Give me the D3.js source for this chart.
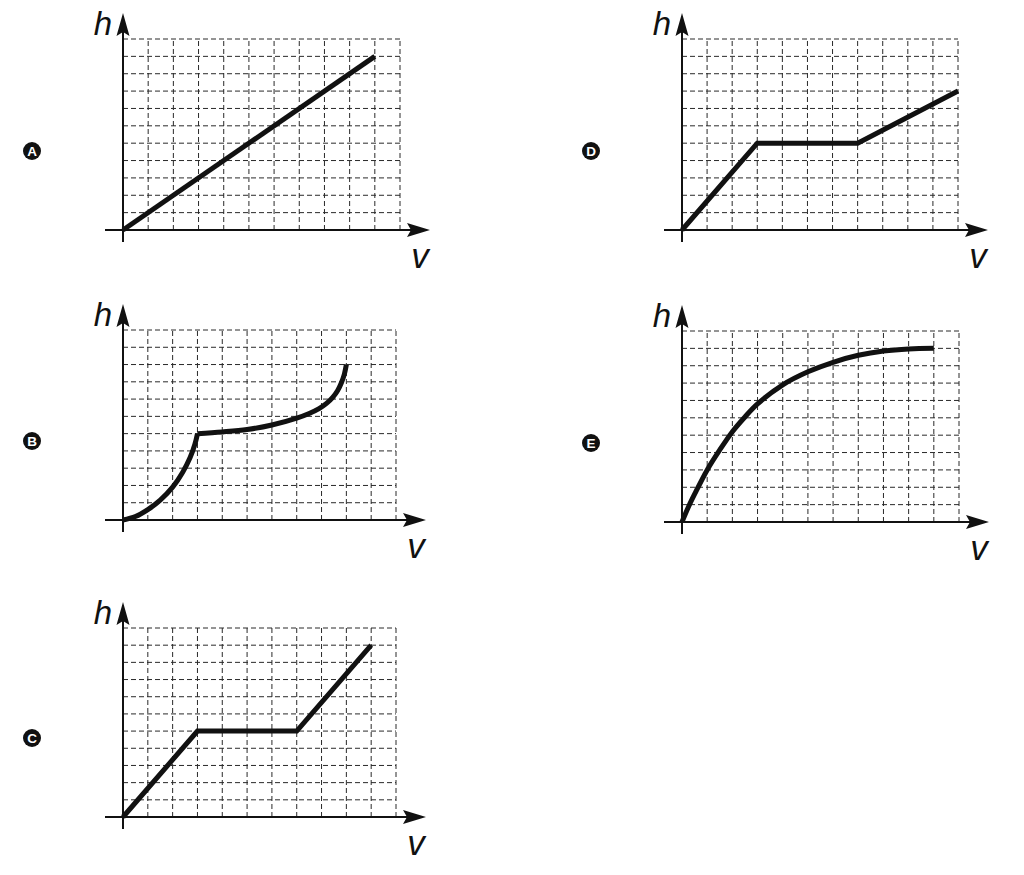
<!DOCTYPE html>
<html>
<head>
<meta charset="utf-8">
<script src="https://cdn.jsdelivr.net/npm/d3@7"></script>
<style>
  body { margin: 0; background: #fff; }
</style>
</head>
<body>
<script>
const width = 1024
const height = 875

// grid is 11 x 11 cells in every panel
const gridCells = d3.range(0, 12);

// [v, h] points, in grid units
const seriesA = [[0, 0], [10, 10]];
const seriesB1 = [[0, 0], [0.5, 0.2], [1, 0.6], [1.5, 1.15], [2, 1.9], [2.4, 2.75], [2.7, 3.6], [2.9, 4.4], [3, 5]];
const seriesB2 = [[3, 5], [4, 5.1], [5, 5.24], [6, 5.5], [7, 5.9], [7.5, 6.17], [7.9, 6.45], [8.2, 6.75],
                  [8.45, 7.1], [8.65, 7.5], [8.8, 7.95], [8.92, 8.45], [9, 9]];
const seriesC = [[0, 0], [3, 5], [7, 5], [10, 10]];
const seriesD = [[0, 0], [3, 5], [7, 5], [11, 8]];
const seriesE = [[0, 0], [0.25, 0.85], [0.5, 1.6], [1, 3], [1.5, 4.15], [2, 5.2], [2.5, 6.05], [3, 6.8],
                 [4, 7.9], [5, 8.65], [6, 9.2], [7, 9.6], [8, 9.85], [9, 9.97], [10, 10]];

const letters = ["A", "B", "C", "D", "E"];
const xLabel = "v";
const yLabel = "h";

// panel placement (origin = where axes cross)
const panels = [
  { label: "A", x0: 123, y0: 230, w: 277, h: 191, lines: [seriesA], curve: d3.curveLinear },
  { label: "B", x0: 123, y0: 520, w: 273, h: 190, lines: [seriesB1, seriesB2], curve: d3.curveCatmullRom.alpha(0.5) },
  { label: "C", x0: 123, y0: 817, w: 273, h: 189, lines: [seriesC], curve: d3.curveLinear },
  { label: "D", x0: 682, y0: 230, w: 276, h: 191, lines: [seriesD], curve: d3.curveLinear },
  { label: "E", x0: 682, y0: 522, w: 277, h: 191, lines: [seriesE], curve: d3.curveCatmullRom.alpha(0.5) }
];

const svg = d3.select("body").append("svg")
    .attr("width", width)
    .attr("height", height);

panels.forEach(p => {
    const x = d3.scaleLinear().domain([0, 11]).range([p.x0, p.x0 + p.w]);
    const y = d3.scaleLinear().domain([0, 11]).range([p.y0, p.y0 - p.h]);
    const g = svg.append("g");

    // dashed grid
    g.selectAll(".vgrid")
        .data(gridCells.slice(1))
        .enter().append("line")
        .attr("x1", d => x(d)).attr("x2", d => x(d))
        .attr("y1", y(0)).attr("y2", y(11))
        .attr("stroke", "#2a2a2a")
        .attr("stroke-width", 1)
        .attr("stroke-dasharray", "5,3");

    g.selectAll(".hgrid")
        .data(gridCells.slice(1))
        .enter().append("line")
        .attr("x1", x(0)).attr("x2", x(11))
        .attr("y1", d => y(d)).attr("y2", d => y(d))
        .attr("stroke", "#2a2a2a")
        .attr("stroke-width", 1)
        .attr("stroke-dasharray", "5,3");

    // axes
    const xEnd = x(11) + 30;
    const yEnd = y(11) - 26;
    g.append("line")
        .attr("x1", x(0) - 18).attr("x2", xEnd - 10)
        .attr("y1", y(0)).attr("y2", y(0))
        .attr("stroke", "#111").attr("stroke-width", 2);
    g.append("line")
        .attr("x1", x(0)).attr("x2", x(0))
        .attr("y1", y(0) + 12).attr("y2", yEnd + 10)
        .attr("stroke", "#111").attr("stroke-width", 2);

    // arrow heads
    g.append("path")
        .attr("d", `M${xEnd},${y(0)} L${xEnd - 23},${y(0) - 7} L${xEnd - 19},${y(0)} L${xEnd - 23},${y(0) + 7} Z`)
        .attr("fill", "#111");
    g.append("path")
        .attr("d", `M${x(0)},${yEnd} L${x(0) - 6.5},${yEnd + 23} L${x(0)},${yEnd + 19} L${x(0) + 6.5},${yEnd + 23} Z`)
        .attr("fill", "#111");

    // axis letters
    g.append("text")
        .attr("x", x(0) - 11)
        .attr("y", y(11) - 4)
        .attr("text-anchor", "end")
        .attr("font-family", "Liberation Sans, Arial, sans-serif")
        .attr("font-style", "italic")
        .attr("font-size", 33)
        .attr("fill", "#111")
        .text(yLabel);
    g.append("text")
        .attr("x", x(11) + 20)
        .attr("y", y(0) + 38)
        .attr("text-anchor", "middle")
        .attr("font-family", "Liberation Sans, Arial, sans-serif")
        .attr("font-style", "italic")
        .attr("font-size", 35)
        .attr("fill", "#111")
        .text(xLabel);

    // data lines
    const line = d3.line()
        .x(d => x(d[0]))
        .y(d => y(d[1]))
        .curve(p.curve);
    g.selectAll(".series")
        .data(p.lines)
        .enter().append("path")
        .attr("d", line)
        .attr("fill", "none")
        .attr("stroke", "#111")
        .attr("stroke-width", 5)
        .attr("stroke-linejoin", "miter")
        .attr("stroke-linecap", "butt");

    // circled option letter
    const cx = p.x0 - 91, cy = p.y0 - 79;
    g.append("circle")
        .attr("cx", cx).attr("cy", cy).attr("r", 9)
        .attr("fill", "#111");
    g.append("text")
        .attr("x", cx).attr("y", cy + 4.8)
        .attr("text-anchor", "middle")
        .attr("font-family", "Liberation Sans, Arial, sans-serif")
        .attr("font-weight", "bold")
        .attr("font-size", 13.5)
        .attr("fill", "#fff")
        .text(letters[letters.indexOf(p.label)]);
});
</script>
</body>
</html>
